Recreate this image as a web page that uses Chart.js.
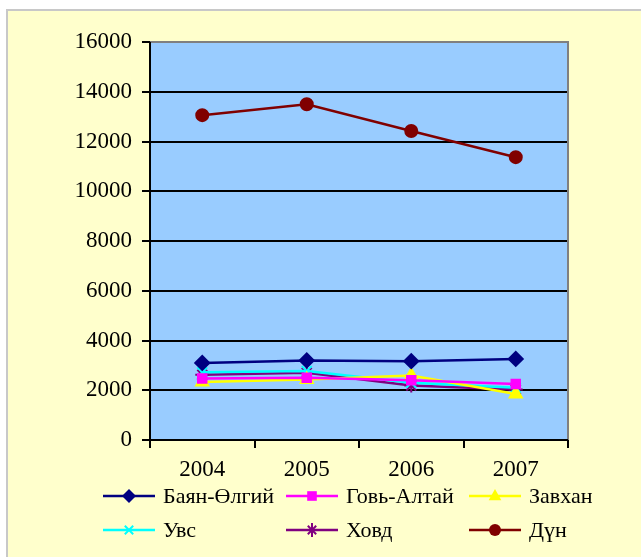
<!DOCTYPE html>
<html><head><meta charset="utf-8">
<script src="https://cdn.jsdelivr.net/npm/chart.js@4/dist/chart.umd.min.js"></script>
<style>html,body{margin:0;padding:0;background:#fff}#wrap{width:641px;height:557px;position:relative}</style>
</head><body><div id="wrap"><canvas id="c" width="641" height="557"></canvas></div>
<script>
const years = ['2004','2005','2006','2007'];
const bayanOlgii = [3100, 3200, 3170, 3260];
const goviAltai = [2470, 2500, 2400, 2250];
const zavkhan = [2330, 2430, 2590, 1850];
const uvs = [2720, 2770, 2300, 2100];
const khovd = [2620, 2700, 2190, 2030];
const total = [13060, 13500, 12420, 11370];
const seriesNames = ['Баян-Өлгий','Говь-Алтай','Завхан','Увс','Ховд','Дүн'];
const yTicks = {min:0, max:16000, step:2000};

const FONT = '"Liberation Serif","Times New Roman",serif';
const styles = [
  {c:'#000080', p:'rectRot', r:7},
  {c:'#FF00FF', p:'rect', r:6},
  {c:'#FFFF00', p:'triangle', r:7},
  {c:'#00FFFF', p:'crossRot', r:7},
  {c:'#800080', p:'star', r:7},
  {c:'#800000', p:'circle', r:6}
];
const seriesData = [bayanOlgii, goviAltai, zavkhan, uvs, khovd, total];
const datasets = seriesData.map((d,i)=>({
  label: seriesNames[i], data: d,
  borderColor: styles[i].c, backgroundColor: styles[i].c,
  pointStyle: styles[i].p, pointRadius: styles[i].r, pointHoverRadius: styles[i].r,
  pointBorderWidth: 2, borderWidth: 2.5, tension: 0
}));

function marker(ctx, style, color, x, y, r){
  ctx.save(); ctx.fillStyle=color; ctx.strokeStyle=color; ctx.lineWidth=2;
  ctx.beginPath();
  if(style==='rectRot'){ctx.moveTo(x,y-r);ctx.lineTo(x+r,y);ctx.lineTo(x,y+r);ctx.lineTo(x-r,y);ctx.closePath();ctx.fill();}
  else if(style==='rect'){ctx.fillRect(x-r*0.8,y-r*0.8,r*1.6,r*1.6);}
  else if(style==='triangle'){ctx.moveTo(x,y-r);ctx.lineTo(x+r*0.9,y+r*0.6);ctx.lineTo(x-r*0.9,y+r*0.6);ctx.closePath();ctx.fill();}
  else if(style==='crossRot'){const a=r*0.6;ctx.moveTo(x-a,y-a);ctx.lineTo(x+a,y+a);ctx.moveTo(x+a,y-a);ctx.lineTo(x-a,y+a);ctx.stroke();}
  else if(style==='star'){const a=r*0.6;ctx.moveTo(x-a,y-a);ctx.lineTo(x+a,y+a);ctx.moveTo(x+a,y-a);ctx.lineTo(x-a,y+a);ctx.moveTo(x,y-r);ctx.lineTo(x,y+r);ctx.stroke();}
  else {ctx.arc(x,y,r,0,Math.PI*2);ctx.fill();}
  ctx.restore();
}

const bgPlugin = {
  id:'bg',
  beforeDraw(chart){
    const ctx=chart.ctx, a=chart.chartArea;
    ctx.save();
    ctx.fillStyle='#fff'; ctx.fillRect(0,0,641,557);
    ctx.fillStyle='#FFFFCC'; ctx.fillRect(7,10,634,547);
    ctx.strokeStyle='#C8C8C8'; ctx.lineWidth=2;
    ctx.beginPath(); ctx.moveTo(7,557); ctx.lineTo(7,10); ctx.lineTo(641,10); ctx.stroke();
    ctx.fillStyle='#99CCFF'; ctx.fillRect(a.left,a.top,a.right-a.left,a.bottom-a.top);
    ctx.restore();
  },
  afterDatasetsDraw(chart){
    const ctx=chart.ctx, a=chart.chartArea;
    ctx.save();
    ctx.strokeStyle='#808080'; ctx.lineWidth=2;
    ctx.beginPath(); ctx.moveTo(a.left,a.top); ctx.lineTo(a.right,a.top); ctx.lineTo(a.right,a.bottom); ctx.stroke();
    ctx.strokeStyle='#000';
    ctx.beginPath(); ctx.moveTo(a.left,a.top); ctx.lineTo(a.left,a.bottom); ctx.lineTo(a.right,a.bottom); ctx.stroke();
    ctx.restore();
  },
  afterDraw(chart){
    const ctx=chart.ctx;
    const colX=[103,286,469], rowY=[496,530];
    ctx.save();
    chart.data.datasets.forEach((ds,i)=>{
      const x=colX[i%3], y=rowY[Math.floor(i/3)];
      ctx.strokeStyle=ds.borderColor; ctx.lineWidth=2.5;
      ctx.beginPath(); ctx.moveTo(x,y); ctx.lineTo(x+52,y); ctx.stroke();
      marker(ctx, ds.pointStyle, ds.borderColor, x+26, y, ds.pointRadius);
      ctx.fillStyle='#000'; ctx.font='22px '+FONT; ctx.textBaseline='middle'; ctx.textAlign='left';
      ctx.fillText(ds.label, x+60, y+1);
    });
    ctx.restore();
  }
};

new Chart(document.getElementById('c'), {
  type:'line',
  data:{labels:years, datasets},
  plugins:[bgPlugin],
  options:{
    responsive:false, animation:false,
    layout:{padding:{top:42,right:73,left:0,bottom:0}},
    plugins:{legend:{display:false}, tooltip:{enabled:false}},
    scales:{
      x:{
        offset:true,
        grid:{offset:true, drawOnChartArea:false, drawTicks:true, tickLength:8, color:'#000', lineWidth:2},
        border:{display:false},
        ticks:{color:'#000', font:{family:FONT, size:23}, padding:8, maxRotation:0},
        afterFit(s){ s.height = 117; }
      },
      y:{
        min:yTicks.min, max:yTicks.max,
        grid:{color:'#000', lineWidth:2, tickLength:8, drawTicks:true},
        border:{display:false},
        ticks:{stepSize:yTicks.step, color:'#000', font:{family:FONT, size:23}, padding:10,
               callback:(v)=>String(v)},
        afterFit(s){ s.width = 150; }
      }
    }
  }
});
</script></body></html>
